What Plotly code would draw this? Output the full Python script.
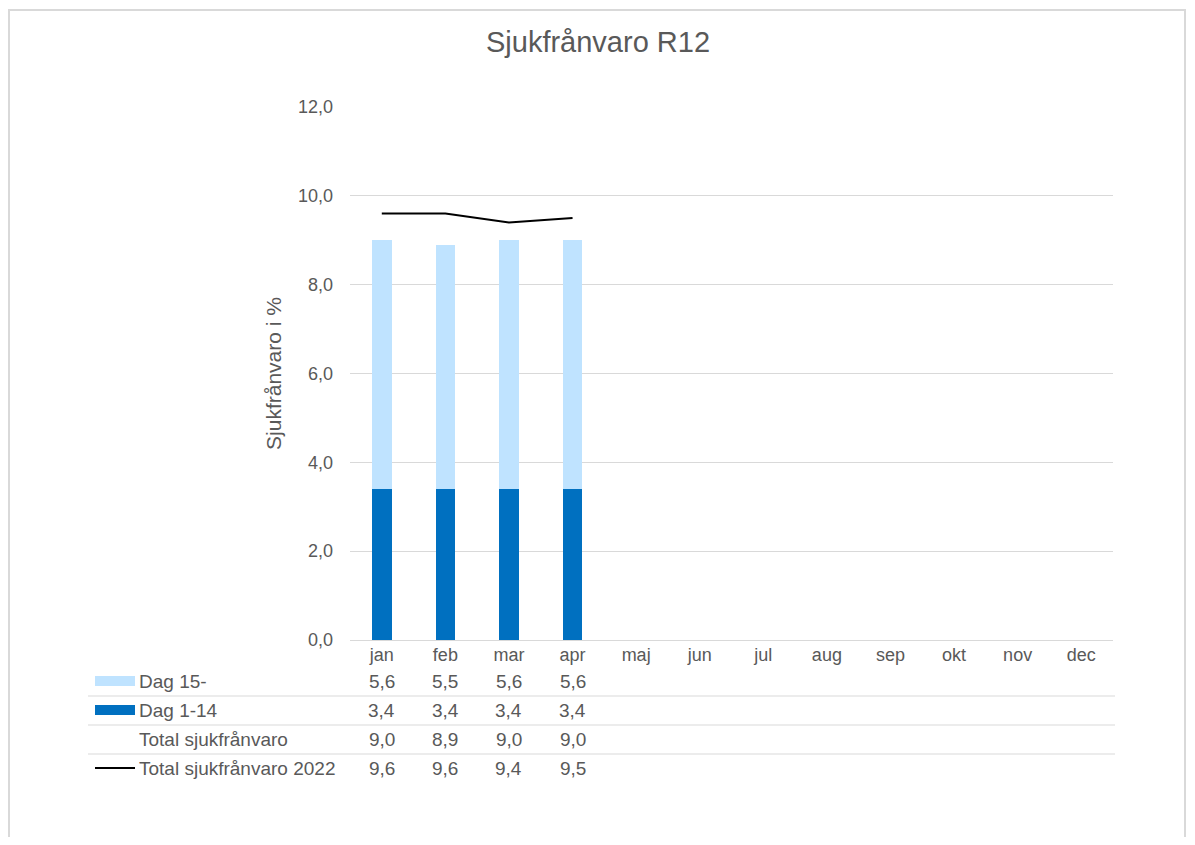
import plotly.graph_objects as go

months = ["jan", "feb", "mar", "apr", "maj", "jun", "jul", "aug", "sep", "okt", "nov", "dec"]
dag15 = [5.6, 5.5, 5.6, 5.6]
dag1_14 = [3.4, 3.4, 3.4, 3.4]
total = [9.0, 8.9, 9.0, 9.0]
total2022 = [9.6, 9.6, 9.4, 9.5]

TXT = "#595959"
GRID = "#d9d9d9"
DARK = "#0070C0"
LIGHT = "#BFE3FF"
FONT = "Liberation Sans, Arial, sans-serif"

# page has an 8px body margin on every side; geometry below is in page pixels
OFF = 8
W, H = 1195 - 2 * OFF, 845 - 2 * OFF
L, R, T, B = 350, 1113, 107, 640
PW, PH = R - L, B - T


def px(x):
    return (x - L) / PW


def py(y):
    return (B - y) / PH


fig = go.Figure()
fig.add_trace(go.Bar(x=months[:len(dag1_14)], y=dag1_14, name="Dag 1-14",
                     marker=dict(color=DARK, line=dict(width=0))))
fig.add_trace(go.Bar(x=months[:len(dag15)], y=dag15, name="Dag 15-",
                     marker=dict(color=LIGHT, line=dict(width=0))))
fig.add_trace(go.Scatter(x=months[:len(total2022)], y=total2022, mode="lines",
                         name="Total sjukfrånvaro 2022",
                         line=dict(color="black", width=2)))

fig.update_layout(
    width=W, height=H,
    barmode="stack", bargap=0.69,
    separators=", ",
    showlegend=False,
    paper_bgcolor="white", plot_bgcolor="white",
    font=dict(family=FONT, color=TXT, size=18),
    margin=dict(l=L - OFF, r=(1195 - OFF) - R, t=T - OFF, b=(845 - OFF) - B, pad=0),
    title=dict(text="Sjukfrånvaro R12", x=(598 - OFF) / W, xanchor="center",
               y=1 - (42 - OFF) / H, yanchor="middle",
               font=dict(size=29, color=TXT, family=FONT)),
)
fig.update_xaxes(categoryorder="array", categoryarray=months,
                 range=[-0.5, 11.5], showgrid=False, showline=False,
                 ticks="", tickfont=dict(size=18, color=TXT),
                 ticklabelstandoff=2)
fig.update_yaxes(range=[0, 12], dtick=2, tickformat=".1f",
                 showgrid=True, gridcolor=GRID, gridwidth=1,
                 zeroline=True, zerolinecolor=GRID, zerolinewidth=1,
                 showline=False, ticks="", ticklabelstandoff=16,
                 tickfont=dict(size=18, color=TXT),
                 title=dict(text="Sjukfrånvaro i %", standoff=10,
                            font=dict(size=21, color=TXT)))

rows = [
    ("Dag 15-", dag15, 681, "rect", LIGHT),
    ("Dag 1-14", dag1_14, 710, "rect", DARK),
    ("Total sjukfrånvaro", total, 739, None, None),
    ("Total sjukfrånvaro 2022", total2022, 768, "line", "black"),
]
for label, vals, ypix, sym, col in rows:
    fig.add_annotation(x=px(137), y=py(ypix), xref="paper", yref="paper",
                       text=label, showarrow=False, xanchor="left",
                       yanchor="middle", font=dict(size=19, color=TXT))
    for m, v in zip(months, vals):
        fig.add_annotation(x=m, y=py(ypix), xref="x", yref="paper",
                           text=f"{v:.1f}".replace(".", ","), showarrow=False,
                           xanchor="center", yanchor="middle",
                           font=dict(size=19, color=TXT))
    if sym == "rect":
        fig.add_shape(type="rect", xref="paper", yref="paper",
                      x0=px(95), x1=px(135), y0=py(ypix - 5), y1=py(ypix + 5),
                      fillcolor=col, line=dict(width=0))
    elif sym == "line":
        fig.add_shape(type="line", xref="paper", yref="paper",
                      x0=px(95), x1=px(135), y0=py(ypix), y1=py(ypix),
                      line=dict(color=col, width=2))

for ysep in [696, 725, 754]:
    fig.add_shape(type="line", xref="paper", yref="paper",
                  x0=px(88), x1=px(1115), y0=py(ysep), y1=py(ysep),
                  line=dict(color=GRID, width=1))

# chart-area border
fig.add_shape(type="rect", xref="paper", yref="paper",
              x0=px(9), x1=px(1185), y0=py(900), y1=py(10),
              line=dict(color=GRID, width=2), fillcolor="rgba(0,0,0,0)",
              layer="below")

fig.write_html("out.html")
